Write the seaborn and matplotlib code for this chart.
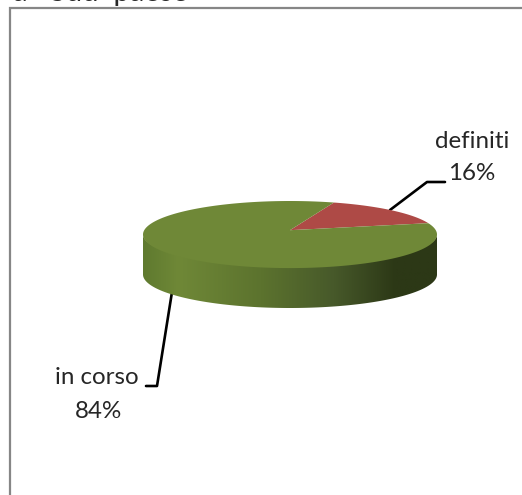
import numpy as np
import matplotlib
matplotlib.use('Agg')
import matplotlib.pyplot as plt
from matplotlib.patches import Polygon
from matplotlib.colors import LinearSegmentedColormap
import seaborn as sns

labels = ['definiti', 'in corso']
values = [16, 84]
colors = ['#AE4A46', '#6F8837']
side_stops = [(0, '#5F7A2F'), (0.12, '#6F8837'), (0.4, '#5C732E'),
              (0.65, '#47592A'), (0.86, '#2C3816'), (1, '#2C3816')]
title_text = 'a   Sud  paese'

sns.set_theme(style='white')
plt.rcParams['font.family'] = ['Lato', 'DejaVu Sans']

W, H = 522, 495
fig = plt.figure(figsize=(W / 100, H / 100), dpi=100, facecolor='white')

# overlay in pixel coordinates for frame, text and leader lines
bg = fig.add_axes([0, 0, 1, 1])
bg.set_xlim(0, W)
bg.set_ylim(H, 0)
bg.axis('off')
bg.plot([10, 10, W], [H, 8, 8], color='#868686', lw=1.6, solid_joinstyle='miter')
bg.text(13, 1, title_text, fontsize=21, color='#262626', ha='left', va='baseline')

# pie axes: top face spans x 143-437, y 201-268, side goes down to 308
ax = fig.add_axes([143 / W, 1 - 308 / H, 294 / W, 107 / H])
wedges, _ = ax.pie(values, colors=colors, startangle=12.5, center=(0, 0.13), radius=1.3,
                   wedgeprops={'linewidth': 0})
ax.set_aspect('auto')
ax.axis('off')

t = np.linspace(np.pi, 3 * np.pi, 400)
top_face = Polygon(np.c_[np.cos(t), np.sin(t)], closed=True, transform=ax.transData, fc='none', ec='none')
ax.add_patch(top_face)
for w in wedges:
    w.set_clip_on(True)
    w.set_clip_path(top_face)
    w.set_zorder(3)

# side wall with the left to right shading, its top edge tucked under the face
t = np.linspace(np.pi, 2 * np.pi, 200)
depth = 1.19
outline = np.r_[np.c_[np.cos(t), 0.9 * np.sin(t)], np.c_[np.cos(t[::-1]), np.sin(t[::-1]) - depth]]
wall = Polygon(outline, closed=True, transform=ax.transData, fc='none', ec='none')
ax.add_patch(wall)
cmap = LinearSegmentedColormap.from_list('wall', side_stops)
img = ax.imshow(np.linspace(0, 1, 256)[None, :], cmap=cmap, extent=(-1, 1, -2.19, 0),
                aspect='auto', zorder=2)
img.set_clip_path(wall)
ax.set_xlim(-1, 1)
ax.set_ylim(-2.19, 1)

bg.plot([390, 427, 445], [210, 182, 182], color='black', lw=1.9)
bg.plot([172, 157, 146], [292, 386, 386], color='black', lw=1.9)
bg.text(472, 141, labels[0], fontsize=17.4, color='#262626', ha='center', va='center')
bg.text(472, 173, f'{values[0]}%', fontsize=17.4, color='#262626', ha='center', va='center')
bg.text(97, 378, labels[1], fontsize=17.4, color='#262626', ha='center', va='center')
bg.text(98, 411, f'{values[1]}%', fontsize=17.4, color='#262626', ha='center', va='center')

fig.savefig('out.png', dpi=100)
